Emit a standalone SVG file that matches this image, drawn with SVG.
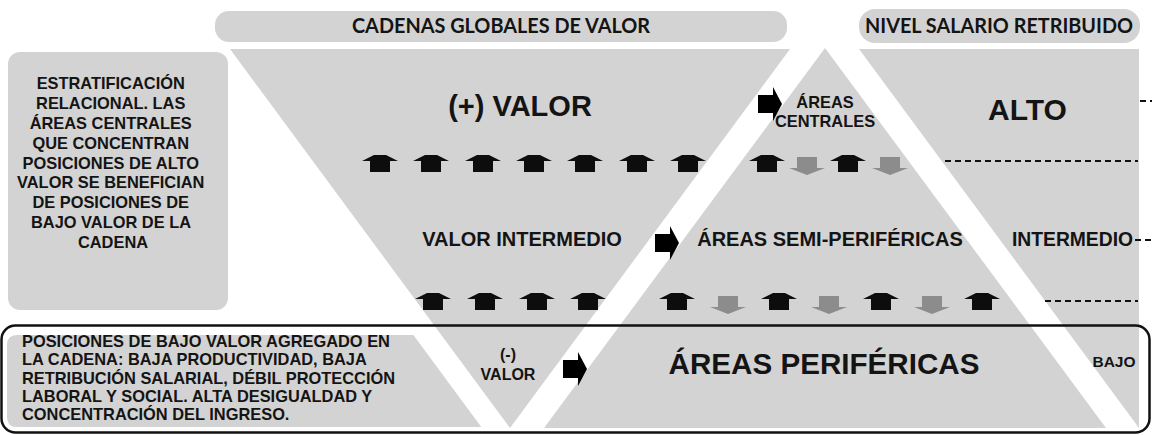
<svg xmlns="http://www.w3.org/2000/svg" width="1152" height="435" viewBox="0 0 1152 435">
<defs>
<style>
.g{fill:#d3d3d3}
.t{font-family:"Liberation Sans",Arial,sans-serif;font-weight:bold;fill:#141414}
.h{font-family:Lato,"Liberation Sans",sans-serif;font-weight:bold;fill:#141414;font-size:20px}
.c{text-anchor:middle}
.s16{font-size:16.4px}
.dash{stroke:#111;stroke-width:2;stroke-dasharray:6 4;fill:none}
.up{fill:#0d0d0d}
.dn{fill:#8c8c8c}
.ra{fill:#000}
</style>
<path id="ua" d="M-6 0H6L18 6H10V17H-10V6H-18Z"/>
<path id="da" d="M-10 0H10V11H18L0 18L-18 11H-10Z"/>
<path id="ra" d="M0 -9H15V-17L24 0L15 17V9H0Z"/>
</defs>
<rect width="1152" height="435" fill="#fff"/>

<g id="header-cadenas">
<rect class="g" x="215" y="11" width="572" height="31" rx="14"/>
<text class="h c" x="501" y="33" textLength="298" lengthAdjust="spacingAndGlyphs">CADENAS GLOBALES DE VALOR</text>
</g>

<g id="header-nivel">
<rect class="g" x="859" y="9" width="281" height="34" rx="16"/>
<text class="h c" x="999" y="33" textLength="268" lengthAdjust="spacingAndGlyphs">NIVEL SALARIO RETRIBUIDO</text>
</g>

<g id="box-estratificacion">
<rect class="g" x="8" y="52" width="220" height="258" rx="12"/>
<text class="t s16 c" x="113">
<tspan x="113" y="89">ESTRATIFICACIÓN</tspan>
<tspan x="113" y="109">RELACIONAL. LAS</tspan>
<tspan x="113" y="129">ÁREAS CENTRALES</tspan>
<tspan x="113" y="149">QUE CONCENTRAN</tspan>
<tspan x="113" y="169">POSICIONES DE ALTO</tspan>
<tspan x="113" y="188">VALOR SE BENEFICIAN</tspan>
<tspan x="113" y="208">DE POSICIONES DE</tspan>
<tspan x="113" y="228">BAJO VALOR DE LA</tspan>
<tspan x="113" y="248">CADENA</tspan>
</text>
</g>

<g id="box-posiciones">
<path class="g" d="M17 335H413.4L481.3 427H17Q7 427 7 417V345Q7 335 17 335Z"/>
<text class="t s16">
<tspan x="22" y="347">POSICIONES DE BAJO VALOR AGREGADO EN</tspan>
<tspan x="22" y="365">LA CADENA: BAJA PRODUCTIVIDAD, BAJA</tspan>
<tspan x="22" y="384">RETRIBUCIÓN SALARIAL, DÉBIL PROTECCIÓN</tspan>
<tspan x="22" y="402">LABORAL Y SOCIAL. ALTA DESIGUALDAD Y</tspan>
<tspan x="22" y="420">CONCENTRACIÓN DEL INGRESO.</tspan>
</text>
</g>

<g id="triangle-valor">
<polygon class="g" points="230,49 790,49 510,428"/>
<text class="t c" x="520" y="116" font-size="29">(+) VALOR</text>
<text class="t c" x="522" y="246" font-size="20">VALOR INTERMEDIO</text>
<text class="t c" x="508" y="360" font-size="16">(-)</text>
<text class="t c" x="508" y="380" font-size="16">VALOR</text>
</g>

<g id="triangle-areas">
<polygon class="g" points="825,48 1106,428 544,428"/>
<text class="t c s16" x="825" y="108">ÁREAS</text>
<text class="t c s16" x="825" y="127">CENTRALES</text>
<text class="t c" x="830" y="246" font-size="20">ÁREAS SEMI-PERIFÉRICAS</text>
<text class="t c" x="824" y="374" font-size="29.6">ÁREAS PERIFÉRICAS</text>
</g>

<g id="triangle-salario">
<polygon class="g" points="859,49 1139,49 1139,428"/>
<text class="t c" x="1027.5" y="120" font-size="30">ALTO</text>
<text class="t c" x="1072.5" y="246" font-size="19.3">INTERMEDIO</text>
<text class="t c" x="1114" y="367" font-size="15.5">BAJO</text>
</g>

<g id="connectors">
<use href="#ua" class="up" x="380" y="155"/>
<use href="#ua" class="up" x="431" y="155"/>
<use href="#ua" class="up" x="483" y="155"/>
<use href="#ua" class="up" x="534" y="155"/>
<use href="#ua" class="up" x="585" y="155"/>
<use href="#ua" class="up" x="637" y="155"/>
<use href="#ua" class="up" x="688" y="155"/>
<use href="#ua" class="up" x="767" y="155"/>
<use href="#da" class="dn" x="807" y="157"/>
<use href="#ua" class="up" x="848" y="155"/>
<use href="#da" class="dn" x="890" y="157"/>

<use href="#ua" class="up" x="433" y="293"/>
<use href="#ua" class="up" x="485" y="293"/>
<use href="#ua" class="up" x="537" y="293"/>
<use href="#ua" class="up" x="588" y="293"/>
<use href="#ua" class="up" x="677" y="293"/>
<use href="#da" class="dn" x="728" y="296"/>
<use href="#ua" class="up" x="779" y="293"/>
<use href="#da" class="dn" x="829" y="296"/>
<use href="#ua" class="up" x="881" y="293"/>
<use href="#da" class="dn" x="932" y="296"/>
<use href="#ua" class="up" x="982" y="293"/>

<use href="#ra" class="ra" x="758" y="104"/>
<use href="#ra" class="ra" x="655" y="243"/>
<use href="#ra" class="ra" x="563" y="369"/>

<line class="dash" x1="1140" y1="101" x2="1152" y2="101"/>
<line class="dash" x1="945" y1="161" x2="1138" y2="161"/>
<line class="dash" x1="1135" y1="240" x2="1152" y2="240"/>
<line class="dash" x1="1045" y1="301" x2="1138" y2="301"/>
</g>

<g id="frame-bajo">
<rect x="1.5" y="325.5" width="1148" height="107" rx="14" fill="none" stroke="#111" stroke-width="2.5"/>
</g>
</svg>
